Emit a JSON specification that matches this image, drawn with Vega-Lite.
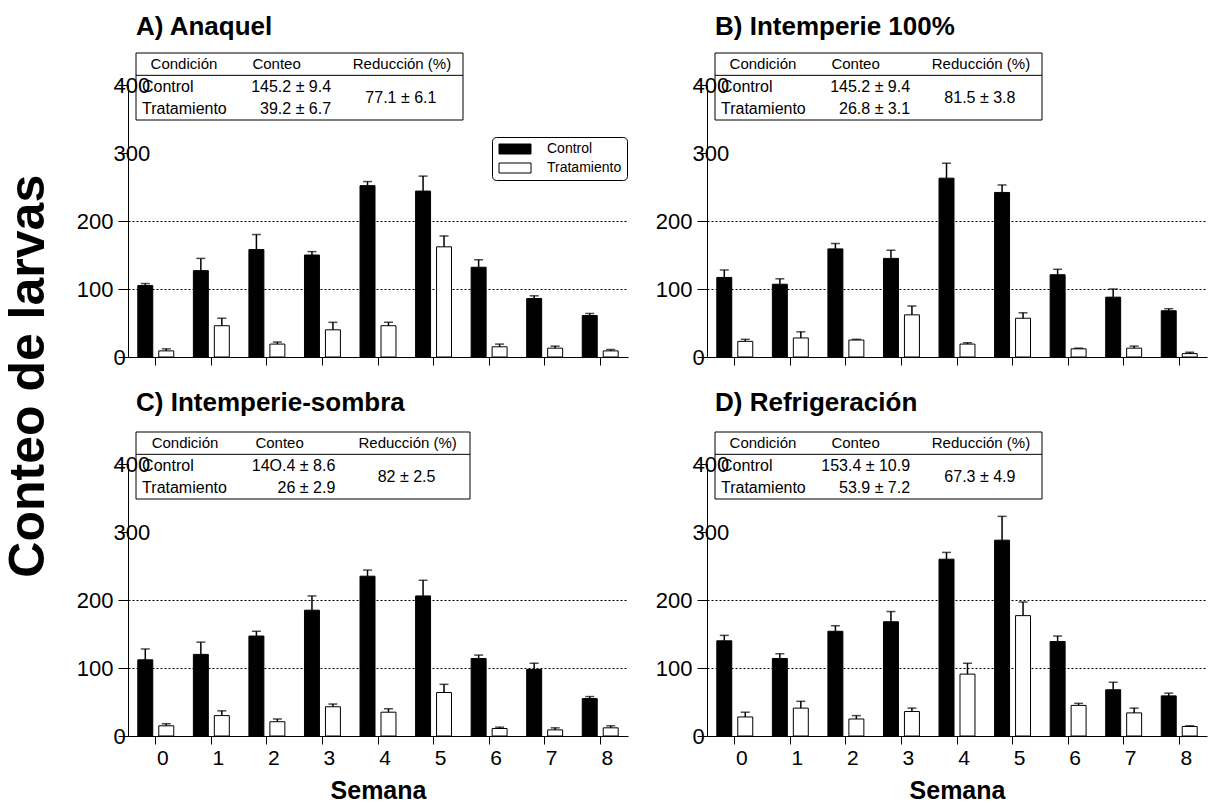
{
  "$schema": "https://vega.github.io/schema/vega-lite/v6.json",
  "autosize": {"type": "none"},
  "padding": {"left": 128, "top": 85, "right": 1081, "bottom": 718},
  "background": "white",
  "title": {"text": "Conteo de larvas", "orient": "left", "anchor": "middle", "fontSize": 50, "font": "Liberation Sans", "fontWeight": "bold", "color": "black", "offset": 22, "dx": 32},
  "datasets": {
    "barras": [
      {"panel":"A","semana":0,"condicion":"Control","conteo":105,"sup":108},
      {"panel":"A","semana":0,"condicion":"Tratamiento","conteo":9,"sup":12},
      {"panel":"A","semana":1,"condicion":"Control","conteo":127,"sup":145},
      {"panel":"A","semana":1,"condicion":"Tratamiento","conteo":46,"sup":57},
      {"panel":"A","semana":2,"condicion":"Control","conteo":158,"sup":180},
      {"panel":"A","semana":2,"condicion":"Tratamiento","conteo":19,"sup":22},
      {"panel":"A","semana":3,"condicion":"Control","conteo":150,"sup":155},
      {"panel":"A","semana":3,"condicion":"Tratamiento","conteo":40,"sup":51},
      {"panel":"A","semana":4,"condicion":"Control","conteo":252,"sup":258},
      {"panel":"A","semana":4,"condicion":"Tratamiento","conteo":46,"sup":51},
      {"panel":"A","semana":5,"condicion":"Control","conteo":244,"sup":266},
      {"panel":"A","semana":5,"condicion":"Tratamiento","conteo":162,"sup":178},
      {"panel":"A","semana":6,"condicion":"Control","conteo":132,"sup":143},
      {"panel":"A","semana":6,"condicion":"Tratamiento","conteo":15,"sup":19},
      {"panel":"A","semana":7,"condicion":"Control","conteo":86,"sup":90},
      {"panel":"A","semana":7,"condicion":"Tratamiento","conteo":13,"sup":16},
      {"panel":"A","semana":8,"condicion":"Control","conteo":61,"sup":64},
      {"panel":"A","semana":8,"condicion":"Tratamiento","conteo":9,"sup":11},
      {"panel":"B","semana":0,"condicion":"Control","conteo":117,"sup":128},
      {"panel":"B","semana":0,"condicion":"Tratamiento","conteo":23,"sup":26},
      {"panel":"B","semana":1,"condicion":"Control","conteo":107,"sup":115},
      {"panel":"B","semana":1,"condicion":"Tratamiento","conteo":28,"sup":37},
      {"panel":"B","semana":2,"condicion":"Control","conteo":159,"sup":167},
      {"panel":"B","semana":2,"condicion":"Tratamiento","conteo":25,"sup":26},
      {"panel":"B","semana":3,"condicion":"Control","conteo":145,"sup":157},
      {"panel":"B","semana":3,"condicion":"Tratamiento","conteo":62,"sup":75},
      {"panel":"B","semana":4,"condicion":"Control","conteo":263,"sup":285},
      {"panel":"B","semana":4,"condicion":"Tratamiento","conteo":19,"sup":21},
      {"panel":"B","semana":5,"condicion":"Control","conteo":242,"sup":253},
      {"panel":"B","semana":5,"condicion":"Tratamiento","conteo":57,"sup":65},
      {"panel":"B","semana":6,"condicion":"Control","conteo":121,"sup":129},
      {"panel":"B","semana":6,"condicion":"Tratamiento","conteo":12,"sup":13},
      {"panel":"B","semana":7,"condicion":"Control","conteo":88,"sup":100},
      {"panel":"B","semana":7,"condicion":"Tratamiento","conteo":13,"sup":16},
      {"panel":"B","semana":8,"condicion":"Control","conteo":68,"sup":71},
      {"panel":"B","semana":8,"condicion":"Tratamiento","conteo":5,"sup":7},
      {"panel":"C","semana":0,"condicion":"Control","conteo":112,"sup":128},
      {"panel":"C","semana":0,"condicion":"Tratamiento","conteo":15,"sup":18},
      {"panel":"C","semana":1,"condicion":"Control","conteo":120,"sup":138},
      {"panel":"C","semana":1,"condicion":"Tratamiento","conteo":30,"sup":37},
      {"panel":"C","semana":2,"condicion":"Control","conteo":147,"sup":154},
      {"panel":"C","semana":2,"condicion":"Tratamiento","conteo":21,"sup":25},
      {"panel":"C","semana":3,"condicion":"Control","conteo":185,"sup":206},
      {"panel":"C","semana":3,"condicion":"Tratamiento","conteo":43,"sup":47},
      {"panel":"C","semana":4,"condicion":"Control","conteo":235,"sup":244},
      {"panel":"C","semana":4,"condicion":"Tratamiento","conteo":35,"sup":40},
      {"panel":"C","semana":5,"condicion":"Control","conteo":206,"sup":229},
      {"panel":"C","semana":5,"condicion":"Tratamiento","conteo":64,"sup":76},
      {"panel":"C","semana":6,"condicion":"Control","conteo":114,"sup":119},
      {"panel":"C","semana":6,"condicion":"Tratamiento","conteo":11,"sup":13},
      {"panel":"C","semana":7,"condicion":"Control","conteo":98,"sup":107},
      {"panel":"C","semana":7,"condicion":"Tratamiento","conteo":9,"sup":12},
      {"panel":"C","semana":8,"condicion":"Control","conteo":55,"sup":58},
      {"panel":"C","semana":8,"condicion":"Tratamiento","conteo":12,"sup":15},
      {"panel":"D","semana":0,"condicion":"Control","conteo":140,"sup":148},
      {"panel":"D","semana":0,"condicion":"Tratamiento","conteo":28,"sup":35},
      {"panel":"D","semana":1,"condicion":"Control","conteo":114,"sup":121},
      {"panel":"D","semana":1,"condicion":"Tratamiento","conteo":41,"sup":51},
      {"panel":"D","semana":2,"condicion":"Control","conteo":154,"sup":162},
      {"panel":"D","semana":2,"condicion":"Tratamiento","conteo":25,"sup":30},
      {"panel":"D","semana":3,"condicion":"Control","conteo":168,"sup":183},
      {"panel":"D","semana":3,"condicion":"Tratamiento","conteo":36,"sup":41},
      {"panel":"D","semana":4,"condicion":"Control","conteo":260,"sup":270},
      {"panel":"D","semana":4,"condicion":"Tratamiento","conteo":91,"sup":107},
      {"panel":"D","semana":5,"condicion":"Control","conteo":288,"sup":323},
      {"panel":"D","semana":5,"condicion":"Tratamiento","conteo":177,"sup":197},
      {"panel":"D","semana":6,"condicion":"Control","conteo":139,"sup":147},
      {"panel":"D","semana":6,"condicion":"Tratamiento","conteo":45,"sup":48},
      {"panel":"D","semana":7,"condicion":"Control","conteo":68,"sup":79},
      {"panel":"D","semana":7,"condicion":"Tratamiento","conteo":34,"sup":41},
      {"panel":"D","semana":8,"condicion":"Control","conteo":59,"sup":63},
      {"panel":"D","semana":8,"condicion":"Tratamiento","conteo":14,"sup":15}
    ],
    "tabla": [
      {"panel":"A","fila":"h","col":"cond","texto":"Condición"},
      {"panel":"A","fila":"h","col":"conteo","texto":"Conteo"},
      {"panel":"A","fila":"h","col":"red","texto":"Reducción (%)"},
      {"panel":"A","fila":"r1","col":"cond","texto":"Control"},
      {"panel":"A","fila":"r2","col":"cond","texto":"Tratamiento"},
      {"panel":"A","fila":"r1","col":"conteo","texto":"145.2 ± 9.4"},
      {"panel":"A","fila":"r2","col":"conteo","texto":"39.2 ± 6.7"},
      {"panel":"A","fila":"r1","col":"red","texto":"77.1 ± 6.1"},
      {"panel":"B","fila":"h","col":"cond","texto":"Condición"},
      {"panel":"B","fila":"h","col":"conteo","texto":"Conteo"},
      {"panel":"B","fila":"h","col":"red","texto":"Reducción (%)"},
      {"panel":"B","fila":"r1","col":"cond","texto":"Control"},
      {"panel":"B","fila":"r2","col":"cond","texto":"Tratamiento"},
      {"panel":"B","fila":"r1","col":"conteo","texto":"145.2 ± 9.4"},
      {"panel":"B","fila":"r2","col":"conteo","texto":"26.8 ± 3.1"},
      {"panel":"B","fila":"r1","col":"red","texto":"81.5 ± 3.8"},
      {"panel":"C","fila":"h","col":"cond","texto":"Condición"},
      {"panel":"C","fila":"h","col":"conteo","texto":"Conteo"},
      {"panel":"C","fila":"h","col":"red","texto":"Reducción (%)"},
      {"panel":"C","fila":"r1","col":"cond","texto":"Control"},
      {"panel":"C","fila":"r2","col":"cond","texto":"Tratamiento"},
      {"panel":"C","fila":"r1","col":"conteo","texto":"14O.4 ± 8.6"},
      {"panel":"C","fila":"r2","col":"conteo","texto":"26 ± 2.9"},
      {"panel":"C","fila":"r1","col":"red","texto":"82 ± 2.5"},
      {"panel":"D","fila":"h","col":"cond","texto":"Condición"},
      {"panel":"D","fila":"h","col":"conteo","texto":"Conteo"},
      {"panel":"D","fila":"h","col":"red","texto":"Reducción (%)"},
      {"panel":"D","fila":"r1","col":"cond","texto":"Control"},
      {"panel":"D","fila":"r2","col":"cond","texto":"Tratamiento"},
      {"panel":"D","fila":"r1","col":"conteo","texto":"153.4 ± 10.9"},
      {"panel":"D","fila":"r2","col":"conteo","texto":"53.9 ± 7.2"},
      {"panel":"D","fila":"r1","col":"red","texto":"67.3 ± 4.9"}
    ]
  },
  "columns": 2,
  "spacing": {"row": 107, "column": 79},
  "bounds": "flush",
  "resolve": {"scale": {"fill": "independent"}, "legend": {"fill": "independent"}},
  "concat": [
    {
      "width": 500, "height": 272,
      "title": {"text": "A) Anaquel", "anchor": "start", "frame": "group", "dx": 8, "offset": -8, "fontSize": 26, "font": "Liberation Sans", "fontWeight": "bold", "color": "black", "baseline": "alphabetic"},
      "layer": [
        {
          "data": {"name": "barras"},
          "transform": [{"filter": "datum.panel == 'A'"}],
          "encoding": {
            "x": {"field": "semana", "type": "ordinal", "scale": {"paddingInner": 0.353, "paddingOuter": 0.1765}, "axis": {"title": null, "labels": false, "tickSize": 8, "domainColor": "black", "tickColor": "black", "grid": false}},
            "xOffset": {"field": "condicion", "type": "nominal", "scale": {"paddingInner": 0.286, "paddingOuter": 0}}
          },
          "layer": [
            {"mark": {"type": "bar", "stroke": "black", "strokeWidth": 1}, "encoding": {
              "y": {"field": "conteo", "type": "quantitative", "scale": {"domain": [0, 400], "nice": false}, "axis": {"title": null, "values": [0,50,100,150,200,250,300,350,400], "labelExpr": "datum.value % 100 == 0 ? datum.label : ''", "labelFont": "Liberation Sans", "labelFontSize": 22, "labelColor": "black", "labelAlign": {"condition": {"test": "datum.value == 100 || datum.value == 200", "value": "right"}, "value": "left"}, "labelBaseline": "middle", "labelPadding": 5, "tickSize": {"condition": {"test": "datum.value % 100 == 0", "value": 10}, "value": 4}, "tickColor": "black", "domainColor": "black", "grid": true, "gridColor": "black", "gridDash": [2, 2], "gridWidth": 1, "gridOpacity": {"condition": {"test": "datum.value == 100 || datum.value == 200", "value": 1}, "value": 0}, "labelOverlap": false}},
              "fill": {"field": "condicion", "type": "nominal", "scale": {"domain": ["Control", "Tratamiento"], "range": ["black", "white"]}, "legend": {"orient": "none", "legendX": 364, "legendY": 52, "title": null, "symbolType": "M-1,-1H5.4V1H-1Z", "symbolSize": 100, "symbolStrokeColor": "black", "symbolStrokeWidth": 1, "labelFont": "Liberation Sans", "labelFontSize": 14, "labelColor": "black", "strokeColor": "black", "cornerRadius": 4, "padding": 5, "rowPadding": 5, "labelOffset": 36}}
            }},
            {"mark": {"type": "rule", "color": "black", "strokeWidth": 1.5}, "encoding": {"y": {"field": "conteo", "type": "quantitative"}, "y2": {"field": "sup"}}},
            {"mark": {"type": "tick", "color": "black", "thickness": 1.5, "size": 9}, "encoding": {"y": {"field": "sup", "type": "quantitative"}}}
          ]
        },
        {
          "data": {"name": "tabla"},
          "transform": [{"filter": "datum.panel == 'A'"}],
          "layer": [
            {"transform": [{"filter": "datum.fila == 'h' && datum.col == 'cond'"}], "mark": {"type": "rect", "fill": null, "stroke": "black", "strokeWidth": 1}, "encoding": {
              "x": {"datum": "cond", "type": "nominal", "bandPosition": 0, "scale": {"type": "band", "domain": ["cond", "conteo", "red"], "range": [8, 335], "paddingInner": 0, "paddingOuter": 0}, "axis": null},
              "x2": {"datum": "red", "bandPosition": 1},
              "y": {"datum": "h", "type": "nominal", "bandPosition": 0, "scale": {"type": "band", "domain": ["h", "r1", "r2"], "range": [-32, 35], "paddingInner": 0, "paddingOuter": 0}, "axis": null},
              "y2": {"datum": "r2", "bandPosition": 1}
            }},
            {"transform": [{"filter": "datum.fila == 'h' && datum.col == 'cond'"}], "mark": {"type": "rule", "color": "black", "strokeWidth": 1}, "encoding": {
              "x": {"datum": "cond", "type": "nominal", "bandPosition": 0, "axis": null},
              "x2": {"datum": "red", "bandPosition": 1},
              "y": {"datum": "h", "type": "nominal", "bandPosition": 1, "axis": null}
            }},
            {"transform": [{"filter": "datum.fila == 'h' && datum.col != 'conteo'"}], "mark": {"type": "text", "align": "center", "baseline": "middle", "font": "Liberation Sans", "fontSize": 15, "color": "black"}, "encoding": {
              "x": {"field": "col", "type": "nominal", "bandPosition": 0.44, "axis": null},
              "y": {"field": "fila", "type": "nominal", "axis": null},
              "text": {"field": "texto"}
            }},
            {"transform": [{"filter": "datum.fila == 'h' && datum.col == 'conteo'"}], "mark": {"type": "text", "align": "center", "baseline": "middle", "font": "Liberation Sans", "fontSize": 15, "color": "black"}, "encoding": {
              "x": {"field": "col", "type": "nominal", "bandPosition": 0.29, "axis": null},
              "y": {"field": "fila", "type": "nominal", "axis": null},
              "text": {"field": "texto"}
            }},
            {"transform": [{"filter": "datum.fila != 'h' && datum.col == 'cond'"}], "mark": {"type": "text", "align": "left", "baseline": "middle", "font": "Liberation Sans", "fontSize": 16, "color": "black"}, "encoding": {
              "x": {"field": "col", "type": "nominal", "bandPosition": 0.055, "axis": null},
              "y": {"field": "fila", "type": "nominal", "axis": null},
              "text": {"field": "texto"}
            }},
            {"transform": [{"filter": "datum.fila != 'h' && datum.col == 'conteo'"}], "mark": {"type": "text", "align": "right", "baseline": "middle", "font": "Liberation Sans", "fontSize": 16, "color": "black"}, "encoding": {
              "x": {"field": "col", "type": "nominal", "bandPosition": 0.79, "axis": null},
              "y": {"field": "fila", "type": "nominal", "axis": null},
              "text": {"field": "texto"}
            }},
            {"transform": [{"filter": "datum.fila != 'h' && datum.col == 'red'"}], "mark": {"type": "text", "align": "center", "baseline": "middle", "font": "Liberation Sans", "fontSize": 16, "color": "black"}, "encoding": {
              "x": {"field": "col", "type": "nominal", "bandPosition": 0.43, "axis": null},
              "y": {"field": "fila", "type": "nominal", "bandPosition": 1, "axis": null},
              "text": {"field": "texto"}
            }}
          ]
        }
      ],
      "resolve": {"scale": {"x": "independent", "y": "independent"}}
    },
    {
      "width": 500, "height": 272,
      "title": {"text": "B) Intemperie 100%", "anchor": "start", "frame": "group", "dx": 8, "offset": -8, "fontSize": 26, "font": "Liberation Sans", "fontWeight": "bold", "color": "black", "baseline": "alphabetic"},
      "layer": [
        {
          "data": {"name": "barras"},
          "transform": [{"filter": "datum.panel == 'B'"}],
          "encoding": {
            "x": {"field": "semana", "type": "ordinal", "scale": {"paddingInner": 0.353, "paddingOuter": 0.1765}, "axis": {"title": null, "labels": false, "tickSize": 8, "domainColor": "black", "tickColor": "black", "grid": false}},
            "xOffset": {"field": "condicion", "type": "nominal", "scale": {"paddingInner": 0.286, "paddingOuter": 0}}
          },
          "layer": [
            {"mark": {"type": "bar", "stroke": "black", "strokeWidth": 1}, "encoding": {
              "y": {"field": "conteo", "type": "quantitative", "scale": {"domain": [0, 400], "nice": false}, "axis": {"title": null, "values": [0,50,100,150,200,250,300,350,400], "labelExpr": "datum.value % 100 == 0 ? datum.label : ''", "labelFont": "Liberation Sans", "labelFontSize": 22, "labelColor": "black", "labelAlign": {"condition": {"test": "datum.value == 100 || datum.value == 200", "value": "right"}, "value": "left"}, "labelBaseline": "middle", "labelPadding": 5, "tickSize": {"condition": {"test": "datum.value % 100 == 0", "value": 10}, "value": 4}, "tickColor": "black", "domainColor": "black", "grid": true, "gridColor": "black", "gridDash": [2, 2], "gridWidth": 1, "gridOpacity": {"condition": {"test": "datum.value == 100 || datum.value == 200", "value": 1}, "value": 0}, "labelOverlap": false}},
              "fill": {"field": "condicion", "type": "nominal", "scale": {"domain": ["Control", "Tratamiento"], "range": ["black", "white"]}, "legend": null}
            }},
            {"mark": {"type": "rule", "color": "black", "strokeWidth": 1.5}, "encoding": {"y": {"field": "conteo", "type": "quantitative"}, "y2": {"field": "sup"}}},
            {"mark": {"type": "tick", "color": "black", "thickness": 1.5, "size": 9}, "encoding": {"y": {"field": "sup", "type": "quantitative"}}}
          ]
        },
        {
          "data": {"name": "tabla"},
          "transform": [{"filter": "datum.panel == 'B'"}],
          "layer": [
            {"transform": [{"filter": "datum.fila == 'h' && datum.col == 'cond'"}], "mark": {"type": "rect", "fill": null, "stroke": "black", "strokeWidth": 1}, "encoding": {
              "x": {"datum": "cond", "type": "nominal", "bandPosition": 0, "scale": {"type": "band", "domain": ["cond", "conteo", "red"], "range": [8, 335], "paddingInner": 0, "paddingOuter": 0}, "axis": null},
              "x2": {"datum": "red", "bandPosition": 1},
              "y": {"datum": "h", "type": "nominal", "bandPosition": 0, "scale": {"type": "band", "domain": ["h", "r1", "r2"], "range": [-32, 35], "paddingInner": 0, "paddingOuter": 0}, "axis": null},
              "y2": {"datum": "r2", "bandPosition": 1}
            }},
            {"transform": [{"filter": "datum.fila == 'h' && datum.col == 'cond'"}], "mark": {"type": "rule", "color": "black", "strokeWidth": 1}, "encoding": {
              "x": {"datum": "cond", "type": "nominal", "bandPosition": 0, "axis": null},
              "x2": {"datum": "red", "bandPosition": 1},
              "y": {"datum": "h", "type": "nominal", "bandPosition": 1, "axis": null}
            }},
            {"transform": [{"filter": "datum.fila == 'h' && datum.col != 'conteo'"}], "mark": {"type": "text", "align": "center", "baseline": "middle", "font": "Liberation Sans", "fontSize": 15, "color": "black"}, "encoding": {
              "x": {"field": "col", "type": "nominal", "bandPosition": 0.44, "axis": null},
              "y": {"field": "fila", "type": "nominal", "axis": null},
              "text": {"field": "texto"}
            }},
            {"transform": [{"filter": "datum.fila == 'h' && datum.col == 'conteo'"}], "mark": {"type": "text", "align": "center", "baseline": "middle", "font": "Liberation Sans", "fontSize": 15, "color": "black"}, "encoding": {
              "x": {"field": "col", "type": "nominal", "bandPosition": 0.29, "axis": null},
              "y": {"field": "fila", "type": "nominal", "axis": null},
              "text": {"field": "texto"}
            }},
            {"transform": [{"filter": "datum.fila != 'h' && datum.col == 'cond'"}], "mark": {"type": "text", "align": "left", "baseline": "middle", "font": "Liberation Sans", "fontSize": 16, "color": "black"}, "encoding": {
              "x": {"field": "col", "type": "nominal", "bandPosition": 0.055, "axis": null},
              "y": {"field": "fila", "type": "nominal", "axis": null},
              "text": {"field": "texto"}
            }},
            {"transform": [{"filter": "datum.fila != 'h' && datum.col == 'conteo'"}], "mark": {"type": "text", "align": "right", "baseline": "middle", "font": "Liberation Sans", "fontSize": 16, "color": "black"}, "encoding": {
              "x": {"field": "col", "type": "nominal", "bandPosition": 0.79, "axis": null},
              "y": {"field": "fila", "type": "nominal", "axis": null},
              "text": {"field": "texto"}
            }},
            {"transform": [{"filter": "datum.fila != 'h' && datum.col == 'red'"}], "mark": {"type": "text", "align": "center", "baseline": "middle", "font": "Liberation Sans", "fontSize": 16, "color": "black"}, "encoding": {
              "x": {"field": "col", "type": "nominal", "bandPosition": 0.43, "axis": null},
              "y": {"field": "fila", "type": "nominal", "bandPosition": 1, "axis": null},
              "text": {"field": "texto"}
            }}
          ]
        }
      ],
      "resolve": {"scale": {"x": "independent", "y": "independent"}}
    },
    {
      "width": 500, "height": 272,
      "title": {"text": "C) Intemperie-sombra", "anchor": "start", "frame": "group", "dx": 8, "offset": -5, "fontSize": 26, "font": "Liberation Sans", "fontWeight": "bold", "color": "black", "baseline": "alphabetic"},
      "layer": [
        {
          "data": {"name": "barras"},
          "transform": [{"filter": "datum.panel == 'C'"}],
          "encoding": {
            "x": {"field": "semana", "type": "ordinal", "scale": {"paddingInner": 0.353, "paddingOuter": 0.1765}, "axis": {"title": "Semana", "labelAngle": 0, "labelFont": "Liberation Sans", "labelFontSize": 21, "labelColor": "black", "labelOffset": 7, "labelPadding": 3, "tickSize": 8, "domainColor": "black", "tickColor": "black", "grid": false, "titleFont": "Liberation Sans", "titleFontSize": 25, "titleFontWeight": "bold", "titleColor": "black", "titlePadding": 10}},
            "xOffset": {"field": "condicion", "type": "nominal", "scale": {"paddingInner": 0.286, "paddingOuter": 0}}
          },
          "layer": [
            {"mark": {"type": "bar", "stroke": "black", "strokeWidth": 1}, "encoding": {
              "y": {"field": "conteo", "type": "quantitative", "scale": {"domain": [0, 400], "nice": false}, "axis": {"title": null, "values": [0,50,100,150,200,250,300,350,400], "labelExpr": "datum.value % 100 == 0 ? datum.label : ''", "labelFont": "Liberation Sans", "labelFontSize": 22, "labelColor": "black", "labelAlign": {"condition": {"test": "datum.value == 100 || datum.value == 200", "value": "right"}, "value": "left"}, "labelBaseline": "middle", "labelPadding": 5, "tickSize": {"condition": {"test": "datum.value % 100 == 0", "value": 10}, "value": 4}, "tickColor": "black", "domainColor": "black", "grid": true, "gridColor": "black", "gridDash": [2, 2], "gridWidth": 1, "gridOpacity": {"condition": {"test": "datum.value == 100 || datum.value == 200", "value": 1}, "value": 0}, "labelOverlap": false}},
              "fill": {"field": "condicion", "type": "nominal", "scale": {"domain": ["Control", "Tratamiento"], "range": ["black", "white"]}, "legend": null}
            }},
            {"mark": {"type": "rule", "color": "black", "strokeWidth": 1.5}, "encoding": {"y": {"field": "conteo", "type": "quantitative"}, "y2": {"field": "sup"}}},
            {"mark": {"type": "tick", "color": "black", "thickness": 1.5, "size": 9}, "encoding": {"y": {"field": "sup", "type": "quantitative"}}}
          ]
        },
        {
          "data": {"name": "tabla"},
          "transform": [{"filter": "datum.panel == 'C'"}],
          "layer": [
            {"transform": [{"filter": "datum.fila == 'h' && datum.col == 'cond'"}], "mark": {"type": "rect", "fill": null, "stroke": "black", "strokeWidth": 1}, "encoding": {
              "x": {"datum": "cond", "type": "nominal", "bandPosition": 0, "scale": {"type": "band", "domain": ["cond", "conteo", "red"], "range": [8, 342], "paddingInner": 0, "paddingOuter": 0}, "axis": null},
              "x2": {"datum": "red", "bandPosition": 1},
              "y": {"datum": "h", "type": "nominal", "bandPosition": 0, "scale": {"type": "band", "domain": ["h", "r1", "r2"], "range": [-32, 35], "paddingInner": 0, "paddingOuter": 0}, "axis": null},
              "y2": {"datum": "r2", "bandPosition": 1}
            }},
            {"transform": [{"filter": "datum.fila == 'h' && datum.col == 'cond'"}], "mark": {"type": "rule", "color": "black", "strokeWidth": 1}, "encoding": {
              "x": {"datum": "cond", "type": "nominal", "bandPosition": 0, "axis": null},
              "x2": {"datum": "red", "bandPosition": 1},
              "y": {"datum": "h", "type": "nominal", "bandPosition": 1, "axis": null}
            }},
            {"transform": [{"filter": "datum.fila == 'h' && datum.col != 'conteo'"}], "mark": {"type": "text", "align": "center", "baseline": "middle", "font": "Liberation Sans", "fontSize": 15, "color": "black"}, "encoding": {
              "x": {"field": "col", "type": "nominal", "bandPosition": 0.44, "axis": null},
              "y": {"field": "fila", "type": "nominal", "axis": null},
              "text": {"field": "texto"}
            }},
            {"transform": [{"filter": "datum.fila == 'h' && datum.col == 'conteo'"}], "mark": {"type": "text", "align": "center", "baseline": "middle", "font": "Liberation Sans", "fontSize": 15, "color": "black"}, "encoding": {
              "x": {"field": "col", "type": "nominal", "bandPosition": 0.29, "axis": null},
              "y": {"field": "fila", "type": "nominal", "axis": null},
              "text": {"field": "texto"}
            }},
            {"transform": [{"filter": "datum.fila != 'h' && datum.col == 'cond'"}], "mark": {"type": "text", "align": "left", "baseline": "middle", "font": "Liberation Sans", "fontSize": 16, "color": "black"}, "encoding": {
              "x": {"field": "col", "type": "nominal", "bandPosition": 0.055, "axis": null},
              "y": {"field": "fila", "type": "nominal", "axis": null},
              "text": {"field": "texto"}
            }},
            {"transform": [{"filter": "datum.fila != 'h' && datum.col == 'conteo'"}], "mark": {"type": "text", "align": "right", "baseline": "middle", "font": "Liberation Sans", "fontSize": 16, "color": "black"}, "encoding": {
              "x": {"field": "col", "type": "nominal", "bandPosition": 0.79, "axis": null},
              "y": {"field": "fila", "type": "nominal", "axis": null},
              "text": {"field": "texto"}
            }},
            {"transform": [{"filter": "datum.fila != 'h' && datum.col == 'red'"}], "mark": {"type": "text", "align": "center", "baseline": "middle", "font": "Liberation Sans", "fontSize": 16, "color": "black"}, "encoding": {
              "x": {"field": "col", "type": "nominal", "bandPosition": 0.43, "axis": null},
              "y": {"field": "fila", "type": "nominal", "bandPosition": 1, "axis": null},
              "text": {"field": "texto"}
            }}
          ]
        }
      ],
      "resolve": {"scale": {"x": "independent", "y": "independent"}}
    },
    {
      "width": 500, "height": 272,
      "title": {"text": "D) Refrigeración", "anchor": "start", "frame": "group", "dx": 8, "offset": -5, "fontSize": 26, "font": "Liberation Sans", "fontWeight": "bold", "color": "black", "baseline": "alphabetic"},
      "layer": [
        {
          "data": {"name": "barras"},
          "transform": [{"filter": "datum.panel == 'D'"}],
          "encoding": {
            "x": {"field": "semana", "type": "ordinal", "scale": {"paddingInner": 0.353, "paddingOuter": 0.1765}, "axis": {"title": "Semana", "labelAngle": 0, "labelFont": "Liberation Sans", "labelFontSize": 21, "labelColor": "black", "labelOffset": 7, "labelPadding": 3, "tickSize": 8, "domainColor": "black", "tickColor": "black", "grid": false, "titleFont": "Liberation Sans", "titleFontSize": 25, "titleFontWeight": "bold", "titleColor": "black", "titlePadding": 10}},
            "xOffset": {"field": "condicion", "type": "nominal", "scale": {"paddingInner": 0.286, "paddingOuter": 0}}
          },
          "layer": [
            {"mark": {"type": "bar", "stroke": "black", "strokeWidth": 1}, "encoding": {
              "y": {"field": "conteo", "type": "quantitative", "scale": {"domain": [0, 400], "nice": false}, "axis": {"title": null, "values": [0,50,100,150,200,250,300,350,400], "labelExpr": "datum.value % 100 == 0 ? datum.label : ''", "labelFont": "Liberation Sans", "labelFontSize": 22, "labelColor": "black", "labelAlign": {"condition": {"test": "datum.value == 100 || datum.value == 200", "value": "right"}, "value": "left"}, "labelBaseline": "middle", "labelPadding": 5, "tickSize": {"condition": {"test": "datum.value % 100 == 0", "value": 10}, "value": 4}, "tickColor": "black", "domainColor": "black", "grid": true, "gridColor": "black", "gridDash": [2, 2], "gridWidth": 1, "gridOpacity": {"condition": {"test": "datum.value == 100 || datum.value == 200", "value": 1}, "value": 0}, "labelOverlap": false}},
              "fill": {"field": "condicion", "type": "nominal", "scale": {"domain": ["Control", "Tratamiento"], "range": ["black", "white"]}, "legend": null}
            }},
            {"mark": {"type": "rule", "color": "black", "strokeWidth": 1.5}, "encoding": {"y": {"field": "conteo", "type": "quantitative"}, "y2": {"field": "sup"}}},
            {"mark": {"type": "tick", "color": "black", "thickness": 1.5, "size": 9}, "encoding": {"y": {"field": "sup", "type": "quantitative"}}}
          ]
        },
        {
          "data": {"name": "tabla"},
          "transform": [{"filter": "datum.panel == 'D'"}],
          "layer": [
            {"transform": [{"filter": "datum.fila == 'h' && datum.col == 'cond'"}], "mark": {"type": "rect", "fill": null, "stroke": "black", "strokeWidth": 1}, "encoding": {
              "x": {"datum": "cond", "type": "nominal", "bandPosition": 0, "scale": {"type": "band", "domain": ["cond", "conteo", "red"], "range": [8, 335], "paddingInner": 0, "paddingOuter": 0}, "axis": null},
              "x2": {"datum": "red", "bandPosition": 1},
              "y": {"datum": "h", "type": "nominal", "bandPosition": 0, "scale": {"type": "band", "domain": ["h", "r1", "r2"], "range": [-32, 35], "paddingInner": 0, "paddingOuter": 0}, "axis": null},
              "y2": {"datum": "r2", "bandPosition": 1}
            }},
            {"transform": [{"filter": "datum.fila == 'h' && datum.col == 'cond'"}], "mark": {"type": "rule", "color": "black", "strokeWidth": 1}, "encoding": {
              "x": {"datum": "cond", "type": "nominal", "bandPosition": 0, "axis": null},
              "x2": {"datum": "red", "bandPosition": 1},
              "y": {"datum": "h", "type": "nominal", "bandPosition": 1, "axis": null}
            }},
            {"transform": [{"filter": "datum.fila == 'h' && datum.col != 'conteo'"}], "mark": {"type": "text", "align": "center", "baseline": "middle", "font": "Liberation Sans", "fontSize": 15, "color": "black"}, "encoding": {
              "x": {"field": "col", "type": "nominal", "bandPosition": 0.44, "axis": null},
              "y": {"field": "fila", "type": "nominal", "axis": null},
              "text": {"field": "texto"}
            }},
            {"transform": [{"filter": "datum.fila == 'h' && datum.col == 'conteo'"}], "mark": {"type": "text", "align": "center", "baseline": "middle", "font": "Liberation Sans", "fontSize": 15, "color": "black"}, "encoding": {
              "x": {"field": "col", "type": "nominal", "bandPosition": 0.29, "axis": null},
              "y": {"field": "fila", "type": "nominal", "axis": null},
              "text": {"field": "texto"}
            }},
            {"transform": [{"filter": "datum.fila != 'h' && datum.col == 'cond'"}], "mark": {"type": "text", "align": "left", "baseline": "middle", "font": "Liberation Sans", "fontSize": 16, "color": "black"}, "encoding": {
              "x": {"field": "col", "type": "nominal", "bandPosition": 0.055, "axis": null},
              "y": {"field": "fila", "type": "nominal", "axis": null},
              "text": {"field": "texto"}
            }},
            {"transform": [{"filter": "datum.fila != 'h' && datum.col == 'conteo'"}], "mark": {"type": "text", "align": "right", "baseline": "middle", "font": "Liberation Sans", "fontSize": 16, "color": "black"}, "encoding": {
              "x": {"field": "col", "type": "nominal", "bandPosition": 0.79, "axis": null},
              "y": {"field": "fila", "type": "nominal", "axis": null},
              "text": {"field": "texto"}
            }},
            {"transform": [{"filter": "datum.fila != 'h' && datum.col == 'red'"}], "mark": {"type": "text", "align": "center", "baseline": "middle", "font": "Liberation Sans", "fontSize": 16, "color": "black"}, "encoding": {
              "x": {"field": "col", "type": "nominal", "bandPosition": 0.43, "axis": null},
              "y": {"field": "fila", "type": "nominal", "bandPosition": 1, "axis": null},
              "text": {"field": "texto"}
            }}
          ]
        }
      ],
      "resolve": {"scale": {"x": "independent", "y": "independent"}}
    }
  ],
  "config": {"view": {"stroke": null}}
}
